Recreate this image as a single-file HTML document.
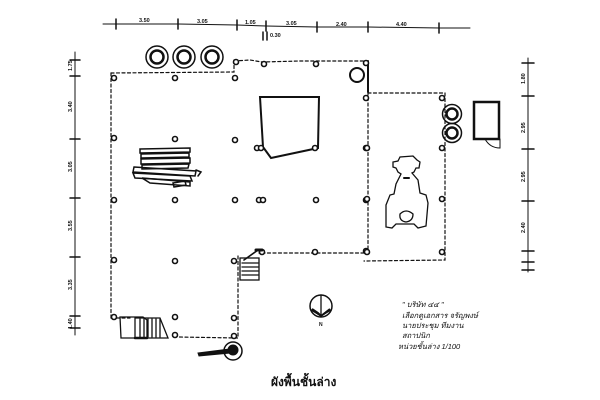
<!DOCTYPE html>
<html><head><meta charset="utf-8"><style>
html,body{margin:0;padding:0;background:#fff;width:600px;height:400px;overflow:hidden}
svg{display:block}
text{font-family:"Liberation Sans","Noto Sans CJK SC",sans-serif;fill:#111}
</style></head><body>
<svg width="600" height="400" viewBox="0 0 600 400" xmlns="http://www.w3.org/2000/svg">
<g stroke="#111" fill="none" stroke-linecap="round">
<!-- top dimension line -->
<polyline points="103,24 178,24 237,25 266,26 317,27 368,27 440,28 470,28" stroke-width="1"/>
<g stroke-width="1.5">
<path d="M116,19v10M178,19v10M237,20v10M266,21v10M317,22v10M368,22v10M439,23v10"/>
<path d="M263,32v8M267,32v8"/>
</g>
<!-- left dims -->
<polyline points="75,52 75,335" stroke-width="1"/>
<path d="M70,60h10M70,76h10M70,139h10M70,198h10M70,257h10M70,316h10M70,328h10" stroke-width="1.5"/>
<!-- right dims -->
<polyline points="528,58 528,272" stroke-width="1"/>
<path d="M522,63h12M522,96h12M522,149h12M522,201h12M522,251h12M522,262h12M522,270h12" stroke-width="1.5"/>

<!-- dashed outline -->
<g stroke-dasharray="3,2.5" stroke-width="1.2">
<path d="M111,73 L234,72 L234,60"/>
<path d="M234,61 L250,60 L262,62 L300,61 L367,61"/>
<path d="M111,73 L111,318"/>
<path d="M368,92 L368,253 L259,253"/>
<path d="M238,256 L238,338 L178,337"/>
<path d="M368,93 L445,93 L445,260 L364,261"/>
<path d="M111,318 L130,318"/>
</g>
<path d="M368,61 L368,92" stroke-width="2"/>

<!-- top circles -->
<g stroke-width="1.5">
<circle cx="157" cy="57" r="11"/><circle cx="157" cy="57" r="6.5" stroke-width="2.5"/>
<circle cx="184" cy="57" r="11"/><circle cx="184" cy="57" r="6.5" stroke-width="2.5"/>
<circle cx="212" cy="57" r="11"/><circle cx="212" cy="57" r="6.5" stroke-width="2.5"/>
<circle cx="357" cy="75" r="7" stroke-width="2"/>
<circle cx="452" cy="114" r="9.5"/><circle cx="452" cy="114" r="5.5" stroke-width="2.5"/>
<circle cx="452" cy="133" r="9.5"/><circle cx="452" cy="133" r="5.5" stroke-width="2.5"/>
</g>

<!-- inner polygon -->
<polygon points="260,97 319,97 318,148 271,158 263,147" stroke-width="2"/>

<!-- columns -->
<g stroke-width="1.6" fill="#fff">
<circle cx="114" cy="78" r="2.5"/><circle cx="175" cy="78" r="2.5"/><circle cx="235" cy="78" r="2.5"/>
<circle cx="236" cy="62" r="2.5"/><circle cx="264" cy="64" r="2.5"/><circle cx="316" cy="64" r="2.5"/><circle cx="366" cy="63" r="2.5"/>
<circle cx="366" cy="98" r="2.5"/>
<circle cx="114" cy="138" r="2.5"/><circle cx="175" cy="139" r="2.5"/><circle cx="235" cy="140" r="2.5"/><circle cx="257" cy="148" r="2.5"/><circle cx="261" cy="148" r="2.5"/><circle cx="315" cy="148" r="2.5"/><circle cx="366" cy="148" r="2.5"/>
<circle cx="114" cy="200" r="2.5"/><circle cx="175" cy="200" r="2.5"/><circle cx="235" cy="200" r="2.5"/><circle cx="259" cy="200" r="2.5"/><circle cx="263" cy="200" r="2.5"/><circle cx="316" cy="200" r="2.5"/><circle cx="366" cy="200" r="2.5"/>
<circle cx="114" cy="260" r="2.5"/><circle cx="175" cy="261" r="2.5"/><circle cx="234" cy="261" r="2.5"/><circle cx="262" cy="252" r="2.5"/><circle cx="315" cy="252" r="2.5"/><circle cx="366" cy="251" r="2.5"/>
<circle cx="114" cy="317" r="2.5"/><circle cx="175" cy="317" r="2.5"/><circle cx="234" cy="318" r="2.5"/>
<circle cx="175" cy="335" r="2.5"/><circle cx="234" cy="336" r="2.5"/>
<circle cx="442" cy="98" r="2.5"/><circle cx="442" cy="148" r="2.5"/><circle cx="442" cy="199" r="2.5"/><circle cx="442" cy="252" r="2.5"/>
<circle cx="367" cy="148" r="2.5"/><circle cx="367" cy="199" r="2.5"/><circle cx="367" cy="252" r="2.5"/>
</g>

<!-- stack of boards -->
<g stroke-width="1.5">
<path d="M140,149 L190,148 L190,152 L140,153Z"/>
<path d="M141,154 L189,153 L189,157 L141,158Z"/>
<path d="M141,159 L190,158 L190,163 L141,164Z"/>
<path d="M142,165 L189,164 L188,168 L142,169Z"/>
<path d="M134,167 L196,171 L195,176 L133,172Z"/>
<path d="M133,173 L190,176 L192,181 L135,178Z"/>
<path d="M142,178 L190,182 L190,186 L150,183Z"/>
<path d="M196,170 L201,172 L198,176"/>
<path d="M173,183 L185,181 L186,185 L174,187Z"/>
</g>

<!-- small box right -->
<rect x="474" y="102" width="25" height="37" stroke-width="2.5"/>
<path d="M485,139 Q490,148 500,148 L500,139" stroke-width="1"/>

<!-- car -->
<path d="M398,161 L400,157 L413,156 L417,160 L420,162 L419,168 L416,168 L414,172 L412,173 L418,180 L420,193 L426,195 L428,203 L426,226 L418,228 L414,224 L396,224 L392,228 L386,227 L386,205 L390,195 L394,194 L396,184 L401,174 L398,172 L396,168 L393,167 L393,162 Z" stroke-width="1.3"/>
<path d="M400,214 Q406,208 413,214 Q413,221 406,222 Q399,221 400,214Z" stroke-width="1.3"/>
<path d="M404,178 L409,178" stroke-width="2"/>

<!-- stair near inner corner -->
<g stroke-width="1.3">
<rect x="240" y="258" width="19" height="22"/>
<path d="M242,263h16M242,267h16M242,271h16M242,275h16"/>
<path d="M244,260 L258,250" stroke-width="1.6"/>
<path d="M256,250 L262,250" stroke-width="3"/>
</g>

<!-- stair bottom-left -->
<g stroke-width="1.3">
<path d="M120,317 L143,317 L147,320 L147,338 L121,338Z"/>
<path d="M135,318 L160,318 L168,338 L135,338Z"/>
<path d="M140,319v18M144,319v18M148,319v18M152,319v18M156,319v18M160,319v18"/>
<path d="M135,338 L147,338" stroke-width="2.5"/>
</g>

<!-- spiral -->
<ellipse cx="233" cy="351" rx="9" ry="9" stroke-width="1.5"/>
<circle cx="233" cy="350" r="5" fill="#111"/>
<path d="M198,353 L230,349 L230,353 L199,356Z" fill="#111" stroke-width="1"/>

<!-- north arrow -->
<circle cx="321" cy="306" r="11" stroke-width="1.5"/>
<path d="M321,295 L321,316 M311,310 L321,316 L331,310" stroke-width="1.3"/>
<path d="M312,309 L321,316 L318,313 Z M330,309 L321,316 L325,313Z" fill="#111" stroke-width="2"/>
</g>
<text x="319" y="326" font-size="5" font-weight="bold">N</text>

<!-- dimension labels -->
<g font-size="5.5" font-weight="bold">
<text x="139" y="22">3.50</text><text x="197" y="23">3.05</text><text x="245" y="24">1.05</text>
<text x="286" y="25">3.05</text><text x="336" y="26">2.40</text><text x="396" y="26">4.40</text>
<text x="270" y="37">0.30</text>
</g>
<g font-size="5.5" font-weight="bold">
<text transform="translate(72,71) rotate(-90)">1.75</text>
<text transform="translate(72,112) rotate(-90)">3.40</text>
<text transform="translate(72,172) rotate(-90)">3.05</text>
<text transform="translate(72,231) rotate(-90)">3.55</text>
<text transform="translate(72,290) rotate(-90)">3.35</text>
<text transform="translate(72,329) rotate(-90)">1.40</text>
<text transform="translate(525,84) rotate(-90)">1.80</text>
<text transform="translate(525,133) rotate(-90)">2.95</text>
<text transform="translate(525,182) rotate(-90)">2.95</text>
<text transform="translate(525,233) rotate(-90)">2.40</text>
</g>

<!-- legend -->
<g font-size="7.5" font-style="italic">
<text x="402" y="307">" บริษัท ๔๔ "</text>
<text x="402" y="318">เลือกดูเอกสาร จรัญพงษ์</text>
<text x="402" y="328">นายประชุม ทีมงาน</text>
<text x="402" y="338">สถาปนิก</text>
<text x="398" y="349">หน่วยชั้นล่าง   1/100</text>
</g>
<text x="271" y="386" font-size="12" font-weight="bold">ผังพื้นชั้นล่าง</text>
</svg>
</body></html>
